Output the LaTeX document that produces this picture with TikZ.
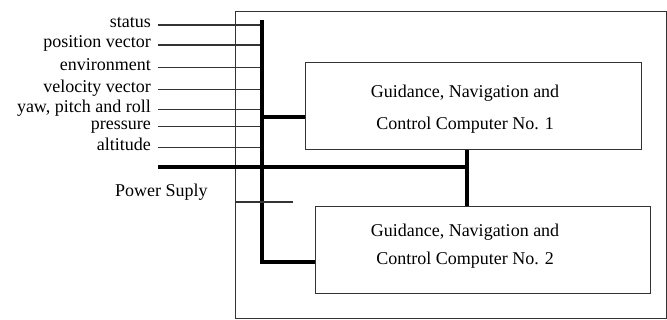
\documentclass[tikz,border=0pt]{standalone}
\usepackage{fontspec}
\setmainfont{Liberation Serif}
\begin{document}
\begin{tikzpicture}[x=1pt,y=-1pt,
  thinln/.style={line width=1.2pt, draw=black!80},
  bus/.style={line width=3.2pt, draw=black},
  boxst/.style={draw=black!80, line width=1.2pt, inner sep=0pt, anchor=north west},
  lbl/.style={font=\fontsize{18}{20}\selectfont, inner sep=0pt, anchor=base east},
  btxt/.style={font=\fontsize{18}{20}\selectfont, inner sep=0pt, anchor=base}]
\useasboundingbox (0,0) rectangle (667,320);
% outer frame and computers
\node[boxst, minimum width=431, minimum height=307] (outer) at (235,11) {};
\node[boxst, minimum width=336, minimum height=87] (box1) at (305,62) {};
\node[boxst, minimum width=335, minimum height=87] (box2) at (315,206) {};
\node[btxt] (t1a) at (465,98) {Guidance, Navigation and};
\node[btxt] (t1b) at (465,129.5) {Control Computer No. 1};
\node[btxt] (t2a) at (465,236.5) {Guidance, Navigation and};
\node[btxt] (t2b) at (465,265) {Control Computer No. 2};
% input labels and lines
\foreach \nm/\yy/\tx in {status/25/status, pos/45/position vector, env/67.7/environment, vel/89.3/velocity vector, yaw/109.3/{yaw, pitch and roll}, pres/126.7/pressure, alt/147.3/altitude}{
  \node[lbl] (l\nm) at (151,\yy+3) {\tx};
  \coordinate (s\nm) at (158,\yy);
  \coordinate (e\nm) at (262,\yy);
  \draw[thinln] (s\nm) -- (e\nm);
}
% data bus
\coordinate (bustop) at (262,20);
\coordinate (busbot) at (262,262);
\coordinate (busmid) at (262,117);
\draw[bus] (bustop) -- (busbot) -- (busbot -| box2.west);
\draw[bus] (busmid) -- (busmid -| box1.west);
% power
\node[font=\fontsize{18}{20}\selectfont, inner sep=0pt, anchor=base west] (pwr) at (115,197) {Power Suply};
\coordinate (pws) at (158,167);
\coordinate (pwe) at (467,167);
\draw[bus] (pws) -- (pwe);
\draw[bus] (box1.south -| pwe) -- (box2.north -| pwe);
% short thin line
\coordinate (tl) at (235,202);
\coordinate (tr) at (293,202);
\draw[thinln] (tl) -- (tr);
\end{tikzpicture}
\end{document}
